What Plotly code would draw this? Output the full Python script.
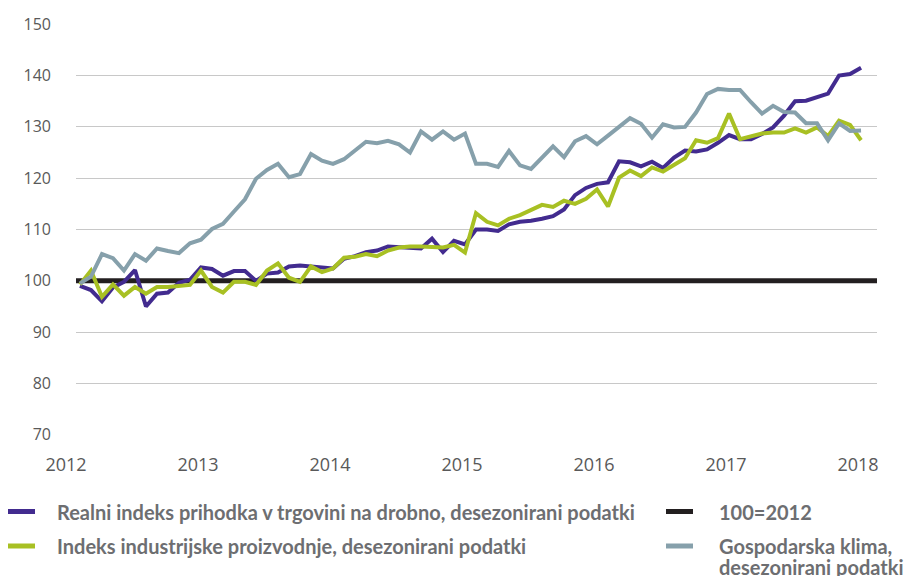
import plotly.graph_objects as go

# ---------------- data (monthly, Feb 2012 .. Jan 2018) ----------------
# month index: 0 = Jan 2012
start_month = 1

retail = [99.0, 98.2, 96.0, 98.7, 99.8, 102.1, 95.0, 97.5, 97.7, 99.6, 100.2, 102.6,
          102.3, 101.0, 101.9, 101.9, 100.0, 101.4, 101.6, 102.8, 103.0, 102.8, 102.6, 102.4,
          104.3, 104.8, 105.6, 105.9, 106.7, 106.6, 106.5, 106.3, 108.2, 105.6, 107.8, 107.1,
          110.0, 110.0, 109.7, 111.0, 111.5, 111.7, 112.1, 112.6, 113.9, 116.7, 118.1, 118.9,
          119.2, 123.3, 123.1, 122.3, 123.2, 122.0, 124.0, 125.4, 125.2, 125.6, 126.9, 128.4,
          127.6, 127.6, 128.6, 129.9, 132.2, 135.0, 135.1, 135.9, 136.5, 140.0, 140.3, 141.5]

industry = [99.3, 102.0, 96.9, 99.3, 97.1, 98.8, 97.5, 98.8, 98.8, 99.0, 99.2, 102.0,
            98.8, 97.7, 99.8, 99.8, 99.2, 102.0, 103.4, 100.6, 99.8, 102.8, 101.7, 102.4,
            104.5, 104.7, 105.2, 104.8, 105.9, 106.5, 106.7, 106.7, 106.6, 106.5, 107.0, 105.5,
            113.2, 111.5, 110.8, 112.1, 112.8, 113.9, 114.8, 114.4, 115.6, 115.0, 116.0, 117.8,
            114.5, 120.1, 121.5, 120.4, 122.1, 121.3, 122.7, 123.9, 127.4, 126.9, 127.8, 132.6,
            127.6, 128.2, 128.7, 128.9, 128.9, 129.7, 128.9, 129.9, 128.2, 131.2, 130.4, 127.4]

climate = [99.5, 100.8, 105.2, 104.4, 102.0, 105.2, 103.9, 106.3, 105.8, 105.4, 107.3, 108.0,
           110.1, 111.1, 113.5, 115.9, 119.9, 121.6, 122.8, 120.2, 120.8, 124.7, 123.4, 122.8,
           123.7, 125.5, 127.1, 126.8, 127.3, 126.6, 125.0, 129.1, 127.5, 129.1, 127.5, 128.7,
           122.8, 122.8, 122.2, 125.3, 122.5, 121.8, 124.0, 126.2, 124.1, 127.2, 128.2, 126.6,
           128.3, 130.1, 131.7, 130.6, 127.9, 130.5, 129.9, 130.0, 132.8, 136.4, 137.4, 137.2,
           137.2, 134.8, 132.6, 134.1, 132.9, 132.8, 130.7, 130.7, 127.4, 130.7, 129.2, 129.3]

baseline_value = 100
years = [2012, 2013, 2014, 2015, 2016, 2017, 2018]
y_ticks = [70, 80, 90, 100, 110, 120, 130, 140, 150]

names = [
    "Realni indeks prihodka v trgovini na drobno, desezonirani podatki",
    "100=2012",
    "Indeks industrijske proizvodnje, desezonirani podatki",
    "Gospodarska klima,<br>desezonirani podatki",
]
colors = ["#422b8f", "#231f20", "#a8c023", "#86a0ab"]

# ---------------- derived ----------------
months = list(range(start_month, start_month + len(retail)))
# ticks placed on the first plotted month of each year-block, labels shifted to January
tick_vals = [12 * (y - years[0]) + 1 for y in years]
tick_text = [str(y) for y in years]
x_range = [0.64, 73.45]
y_range = [69.95, 150.05]

W, H = 914, 576
ML, MR, MT, MB = 76, 37, 24, 141
PW, PH = W - ML - MR, H - MT - MB
month_px = PW / (x_range[1] - x_range[0])


def px(xp):
    return (xp - ML) / PW


def py(yp):
    return (H - MB - yp) / PH


fig = go.Figure()
fig.add_trace(go.Scatter(x=x_range, y=[baseline_value] * 2, mode="lines",
                         line=dict(color=colors[1], width=5), name=names[1], showlegend=False))
fig.add_trace(go.Scatter(x=months, y=retail, mode="lines",
                         line=dict(color=colors[0], width=4), name=names[0], showlegend=False))
fig.add_trace(go.Scatter(x=months, y=industry, mode="lines",
                         line=dict(color=colors[2], width=4), name=names[2], showlegend=False))
fig.add_trace(go.Scatter(x=months, y=climate, mode="lines",
                         line=dict(color=colors[3], width=4), name=names[3], showlegend=False))

fig.update_layout(
    width=W, height=H,
    margin=dict(l=ML, r=MR, t=MT, b=MB),
    paper_bgcolor="white", plot_bgcolor="white",
    showlegend=False,
    xaxis=dict(range=x_range, tickvals=tick_vals, ticktext=tick_text,
               showgrid=False, zeroline=False, showline=False, ticks="",
               tickfont=dict(family="Open Sans", size=18, color="#595959"),
               ticklabelshift=-round(month_px * 1.3),
               ticklabelstandoff=17),
    yaxis=dict(range=y_range, tickvals=y_ticks,
               showgrid=True, gridcolor="#c8c8c8", gridwidth=1,
               zeroline=False, showline=False, ticks="",
               tickfont=dict(family="Open Sans", size=16, color="#595959"),
               ticklabelstandoff=24),
)

# ---------------- custom legend ----------------
legend_font = dict(family="Lato", size=20, color="#6d6e71")
rows = [511.5, 546]
cols = [(8, 35, 55), (666, 693, 717)]
order = [(0, 0, 0), (1, 0, 1), (2, 1, 0), (3, 1, 1)]  # trace idx, row, col
for idx, r, c in order:
    x0, x1, xt = cols[c]
    yy = rows[r]
    fig.add_shape(type="line", xref="paper", yref="paper",
                  x0=px(x0), x1=px(x1), y0=py(yy), y1=py(yy),
                  line=dict(color=colors[idx], width=5))
    lines = names[idx].split("<br>")
    for k, line_text in enumerate(lines):
        fig.add_annotation(xref="paper", yref="paper", x=px(xt), y=py(yy + 21 * k),
                           xanchor="left", yanchor="middle", align="left",
                           text="<b>" + line_text + "</b>",
                           showarrow=False, font=legend_font)

fig.write_html("out.html", config={"displayModeBar": False},
               post_script="document.body.style.margin='0px';")
